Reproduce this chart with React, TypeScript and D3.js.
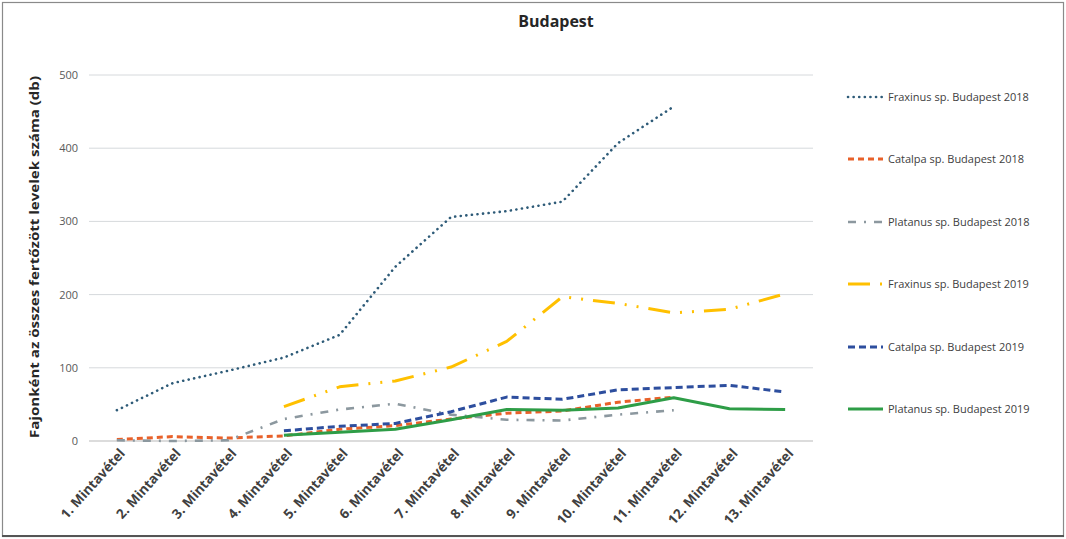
import React from "react";
import * as d3 from "d3";

const categories = [
  "1. Mintavétel", "2. Mintavétel", "3. Mintavétel", "4. Mintavétel", "5. Mintavétel",
  "6. Mintavétel", "7. Mintavétel", "8. Mintavétel", "9. Mintavétel", "10. Mintavétel",
  "11. Mintavétel", "12. Mintavétel", "13. Mintavétel",
];
const yTicks = [0, 100, 200, 300, 400, 500];

const fraxinus2018 = [42, 79, 96, 114, 145, 238, 306, 314, 327, 407, 457, null, null];
const catalpa2018 = [2, 6, 4, 7, 16, 21, 30, 38, 41, 53, 60, null, null];
const platanus2018 = [1, 0, 1, 30, 43, 51, 36, 29, 28, 36, 42, null, null];
const fraxinus2019 = [null, null, null, 47, 74, 82, 101, 136, 197, 188, 175, 180, 201];
const catalpa2019 = [null, null, null, 14, 20, 24, 40, 60, 57, 70, 73, 76, 67];
const platanus2019 = [null, null, null, 8, 12, 16, 29, 43, 42, 45, 59, 44, 43];

const seriesNames = [
  "Fraxinus sp. Budapest 2018",
  "Catalpa sp.  Budapest 2018",
  "Platanus sp. Budapest 2018",
  "Fraxinus sp. Budapest 2019",
  "Catalpa sp.  Budapest 2019",
  "Platanus sp. Budapest 2019",
];

const series = [
  { name: seriesNames[0], values: fraxinus2018, color: "#2E5B78", dash: "0.1 5.5", width: 2.6, cap: "round" },
  { name: seriesNames[1], values: catalpa2018, color: "#E8612A", dash: "6 4", width: 3, cap: "butt" },
  { name: seriesNames[2], values: platanus2018, color: "#8C989F", dash: "8 8 2 8", width: 2.6, cap: "butt" },
  { name: seriesNames[3], values: fraxinus2019, color: "#FFC000", dash: "22 10 2 10 2 10", width: 3, cap: "butt" },
  { name: seriesNames[4], values: catalpa2019, color: "#2D4E9E", dash: "7 4", width: 3, cap: "butt" },
  { name: seriesNames[5], values: platanus2019, color: "#2E9D47", dash: "none", width: 3, cap: "butt" },
];

export default function App() {
  const W = 1066, H = 539;
  const left = 89, right = 813, top = 75, bottom = 441;
  const x = d3.scaleBand<string>().domain(categories).range([left, right]);
  const y = d3.scaleLinear().domain([0, 500]).range([bottom, top]);
  const cx = (c: string) => (x(c) as number) + x.bandwidth() / 2;

  const line = d3
    .line<number | null>()
    .defined((d) => d !== null)
    .x((_, i) => cx(categories[i]))
    .y((d) => y(d as number));

  const legendY = [97, 159, 222, 284, 347, 409];
  const font = "'Open Sans', 'Noto Sans', sans-serif";

  return (
    <svg width={W} height={H} style={{ position: "absolute", left: 0, top: 0, background: "#fff" }} fontFamily={font}>
      <rect x={0} y={0} width={W} height={H} fill="#fff" />
      <rect x={2.5} y={2.5} width={W - 5} height={H - 5} fill="none" stroke="#8a8a8a" strokeWidth={1.2} />
      <line x1={2} x2={W - 2} y1={H - 3} y2={H - 3} stroke="#555" strokeWidth={2} />
      <text x={556} y={27} textAnchor="middle" fontSize={16} fontWeight="bold" fill="#262626">Budapest</text>

      {yTicks.map((t) => (
        <g key={t}>
          <line x1={left} x2={right} y1={y(t)} y2={y(t)} stroke={t === 0 ? "#d0d0d0" : "#d6d9dc"} strokeWidth={t === 0 ? 1.5 : 1} />
          <text x={78} y={y(t) + 4} textAnchor="end" fontSize={11} fill="#595959">{t}</text>
        </g>
      ))}

      <text
        transform={`translate(39, ${(top + bottom) / 2 - 1}) rotate(-90)`}
        textAnchor="middle"
        fontSize={12.5}
        fontWeight="bold"
        fill="#262626"
        textLength={362}
        lengthAdjust="spacingAndGlyphs"
      >
        Fajonként az összes fertőzött levelek száma (db)
      </text>

      {categories.map((c) => (
        <text
          key={c}
          transform={`translate(${cx(c) + 9}, ${bottom + 13}) rotate(-48)`}
          textAnchor="end"
          fontSize={13.5}
          fontWeight="bold"
          fill="#404040"
        >
          {c}
        </text>
      ))}

      {series.map((s) => (
        <path
          key={s.name}
          d={line(s.values) || ""}
          fill="none"
          stroke={s.color}
          strokeWidth={s.width}
          strokeDasharray={s.dash}
          strokeLinecap={s.cap as any}
          strokeLinejoin="round"
        />
      ))}

      {series.map((s, i) => (
        <g key={"lg" + i}>
          <line
            x1={848}
            x2={883}
            y1={legendY[i]}
            y2={legendY[i]}
            stroke={s.color}
            strokeWidth={s.width}
            strokeDasharray={s.dash}
            strokeLinecap={s.cap as any}
          />
          <text x={888} y={legendY[i] + 4} fontSize={11} fill="#404040">{s.name}</text>
        </g>
      ))}
    </svg>
  );
}
